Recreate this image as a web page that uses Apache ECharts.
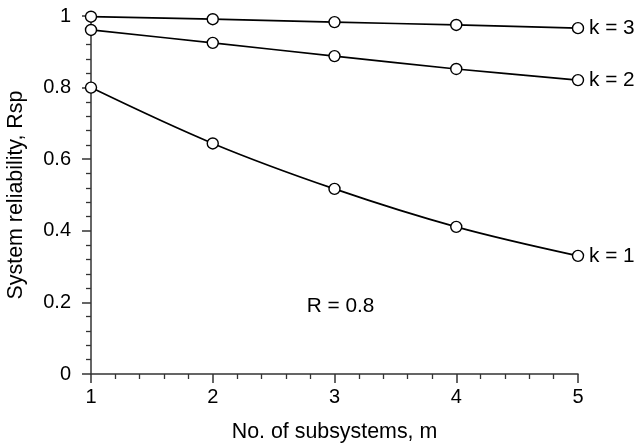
<!DOCTYPE html>
<html>
<head>
<meta charset="utf-8">
<script src="https://cdn.jsdelivr.net/npm/echarts@6/dist/echarts.min.js"></script>
<style>
  html, body { margin: 0; padding: 0; background: #fff; }
  #chart { width: 641px; height: 447px; }
</style>
</head>
<body>
<div id="chart"></div>
<script>
// number of subsystems m
const subsystems = [1, 2, 3, 4, 5]
// system reliability Rsp, R = 0.8
const rspK3 = [0.998, 0.991, 0.983, 0.975, 0.966]
const rspK2 = [0.961, 0.925, 0.888, 0.852, 0.821]
const rspK1 = [0.800, 0.644, 0.517, 0.411, 0.330]
const curveNames = ['k = 3', 'k = 2', 'k = 1']
const noteText = 'R = 0.8'
const notePos = [3.05, 0.19]

const font = 'Liberation Sans, Arial, Helvetica, sans-serif'
const tickFs = 20
const labelFs = 20.8
const nameFs = 21.4
const axisColor = '#333'

function pairs(ys) {
  return subsystems.map((m, i) => [m, ys[i]])
}

function curve(name, ys) {
  return {
    name: name,
    type: 'line',
    data: pairs(ys),
    smooth: 0.35,
    symbol: 'circle',
    symbolSize: 11,
    itemStyle: { color: '#fff', borderColor: '#000', borderWidth: 1.4 },
    lineStyle: { color: '#000', width: 1.7 },
    endLabel: {
      show: true,
      formatter: name,
      distance: 11,
      color: '#000',
      fontSize: labelFs,
      fontFamily: font
    },
    emphasis: { disabled: true },
    animation: false
  }
}

const chart = echarts.init(document.getElementById('chart'))
chart.setOption({
  backgroundColor: '#fff',
  animation: false,
  grid: { left: 91, right: 63, top: 16, bottom: 73, containLabel: false, outerBoundsMode: 'none' },
  xAxis: {
    type: 'value',
    min: 1,
    max: 5,
    interval: 1,
    name: 'No. of subsystems, m',
    nameLocation: 'middle',
    nameGap: 48,
    nameTextStyle: { color: '#000', fontSize: nameFs, fontFamily: font },
    axisLine: { lineStyle: { color: axisColor, width: 1.5 } },
    axisTick: { length: 9, lineStyle: { color: axisColor, width: 1.5 } },
    minorTick: { show: true, splitNumber: 5, length: 5, lineStyle: { color: axisColor, width: 1.3 } },
    axisLabel: { margin: 13, color: '#000', fontSize: tickFs, fontFamily: font },
    splitLine: { show: false }
  },
  yAxis: {
    type: 'value',
    min: 0,
    max: 1,
    interval: 0.2,
    name: 'System reliability, Rsp',
    nameLocation: 'middle',
    nameGap: 64,
    nameTextStyle: { color: '#000', fontSize: nameFs, fontFamily: font },
    axisLine: { show: true, lineStyle: { color: axisColor, width: 1.5 } },
    axisTick: { show: true, length: 9, lineStyle: { color: axisColor, width: 1.5 } },
    minorTick: { show: true, splitNumber: 5, length: 5, lineStyle: { color: axisColor, width: 1.3 } },
    axisLabel: {
      margin: 20,
      color: '#000',
      fontSize: tickFs,
      fontFamily: font,
      formatter: v => String(Math.round(v * 10) / 10)
    },
    splitLine: { show: false }
  },
  series: [
    curve(curveNames[0], rspK3),
    curve(curveNames[1], rspK2),
    curve(curveNames[2], rspK1)
  ]
})

// annotation placed at a data coordinate
const p = chart.convertToPixel({ gridIndex: 0 }, notePos)
chart.setOption({
  graphic: [{
    type: 'text',
    x: p[0],
    y: p[1],
    style: {
      text: noteText,
      fill: '#000',
      font: labelFs + 'px ' + font,
      align: 'center',
      verticalAlign: 'middle'
    }
  }]
})
</script>
</body>
</html>
